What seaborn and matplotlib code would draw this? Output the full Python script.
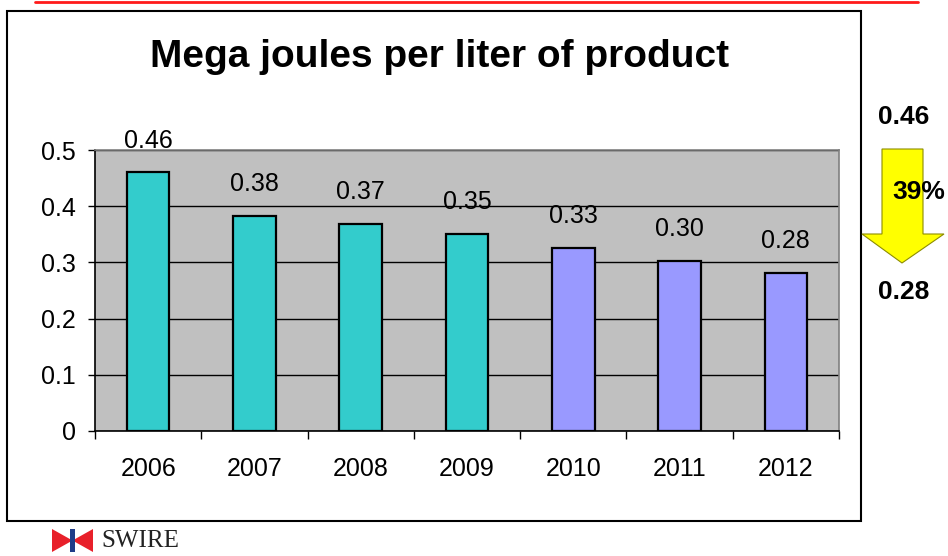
import numpy as np
import pandas as pd
import matplotlib
matplotlib.use("Agg")
import matplotlib.pyplot as plt
import seaborn as sns
from matplotlib.patches import Polygon, Rectangle
from matplotlib.lines import Line2D

# =========================
# DATA
# =========================
years = ["2006", "2007", "2008", "2009", "2010", "2011", "2012"]
mj_per_liter = [0.46, 0.382, 0.368, 0.351, 0.325, 0.302, 0.281]
bar_labels = ["0.46", "0.38", "0.37", "0.35", "0.33", "0.30", "0.28"]
bar_colors = ["#33CCCC"] * 4 + ["#9999FF"] * 3
y_ticks = [0, 0.1, 0.2, 0.3, 0.4, 0.5]
y_tick_labels = ["0", "0.1", "0.2", "0.3", "0.4", "0.5"]
start_label, end_label, drop_label = "0.46", "0.28", "39%"

df = pd.DataFrame({"year": years, "value": mj_per_liter})

# =========================
# FIGURE
# =========================
sns.set_style("white")
plt.rcParams["font.family"] = ["Liberation Sans", "DejaVu Sans"]
plt.rcParams["text.color"] = "black"
plt.rcParams["xtick.color"] = "black"
plt.rcParams["ytick.color"] = "black"
plt.rcParams["xtick.labelcolor"] = "black"
plt.rcParams["ytick.labelcolor"] = "black"

W, H = 948, 556
fig = plt.figure(figsize=(W / 100, H / 100), dpi=100)


def fx(px):
    return px / W


def fy(py):
    return 1 - py / H


ax = fig.add_axes([fx(95), fy(431), fx(839) - fx(95), fy(150) - fy(431)])
ax.set_facecolor("#C0C0C0")

sns.barplot(data=df, x="year", y="value", hue="year", palette=bar_colors,
            legend=False, width=0.4, edgecolor="black", linewidth=1.6,
            saturation=1, ax=ax, zorder=3)

ax.set_ylim(0, 0.5)
ax.set_xlim(-0.5, len(years) - 0.5)
ax.set_yticks(y_ticks)
ax.set_yticklabels(y_tick_labels, fontsize=18)
ax.yaxis.grid(True, color="black", linewidth=1.0, zorder=0)
ax.set_axisbelow(True)

# ticks at category boundaries, labels at category centres
ax.set_xticks(np.arange(len(years) + 1) - 0.5)
ax.set_xticklabels([])
ax.set_xticks(np.arange(len(years)), minor=True)
ax.set_xticklabels(years, minor=True, fontsize=18)
ax.tick_params(axis="x", which="major", direction="out", length=6, width=1,
               color="black", bottom=True)
ax.tick_params(axis="x", which="minor", length=0, pad=19)
ax.tick_params(axis="y", direction="out", length=5, width=1,
               color="black", left=True, pad=9)
ax.set_xlabel("")
ax.set_ylabel("")

for side in ["left", "bottom"]:
    ax.spines[side].set_color("black")
    ax.spines[side].set_linewidth(1.2)
for side in ["top", "right"]:
    ax.spines[side].set_visible(True)
    ax.spines[side].set_color("#808080")
    ax.spines[side].set_linewidth(1.2)

for i, (v, lab) in enumerate(zip(mj_per_liter, bar_labels)):
    ax.annotate(lab, (i, v), xytext=(0, 23), textcoords="offset points",
                ha="center", va="center", fontsize=18, color="black")

# =========================
# TITLE / FRAME
# =========================
fig.text(fx(440), fy(57), "Mega joules per liter of product",
         ha="center", va="center", fontsize=28, fontweight="bold", color="black")

fig.patches.append(Rectangle((fx(7), fy(521)), fx(861) - fx(7), fy(11) - fy(521),
                             transform=fig.transFigure, fill=False,
                             edgecolor="black", linewidth=1.5))
fig.lines.append(Line2D([fx(35), fx(918)], [fy(1.5), fy(1.5)],
                        transform=fig.transFigure, color="#FF1A1A", linewidth=2))

# =========================
# DOWN ARROW
# =========================
arrow_px = [(882, 149), (923, 149), (923, 234), (944, 234), (902, 263),
            (862, 234), (882, 234)]
fig.patches.append(Polygon([(fx(x), fy(y)) for x, y in arrow_px], closed=True,
                           transform=fig.transFigure, facecolor="#FFFF00",
                           edgecolor="#8C8C00", linewidth=0.8))
fig.text(fx(904), fy(117), start_label, ha="center", va="center",
         fontsize=19, fontweight="bold", color="black")
fig.text(fx(904), fy(292), end_label, ha="center", va="center",
         fontsize=19, fontweight="bold", color="black")
fig.text(fx(919), fy(192), drop_label, ha="center", va="center",
         fontsize=19, fontweight="bold", color="black")

# =========================
# LOGO
# =========================
x0, x1, y0, y1 = 52, 93, 529, 552
xm = (x0 + x1) / 2
fig.patches.append(Rectangle((fx(x0), fy(y1)), fx(x1) - fx(x0), fy(y0) - fy(y1),
                             transform=fig.transFigure, facecolor="white",
                             edgecolor="none"))
for tri in ([(x0, y0), (xm, (y0 + y1) / 2), (x0, y1)],
            [(x1, y0), (xm, (y0 + y1) / 2), (x1, y1)]):
    fig.patches.append(Polygon([(fx(x), fy(y)) for x, y in tri], closed=True,
                               transform=fig.transFigure, facecolor="#E8202A",
                               edgecolor="none"))
fig.patches.append(Rectangle((fx(xm - 3), fy(y1)), fx(5) - fx(0), fy(y0) - fy(y1),
                             transform=fig.transFigure, facecolor="#1F3C88",
                             edgecolor="none"))
fig.text(fx(101), fy(541), "SWIRE", ha="left", va="center", fontsize=18,
         family=["Liberation Serif", "DejaVu Serif"], color="#222222")

fig.savefig("out.png", dpi=100)
